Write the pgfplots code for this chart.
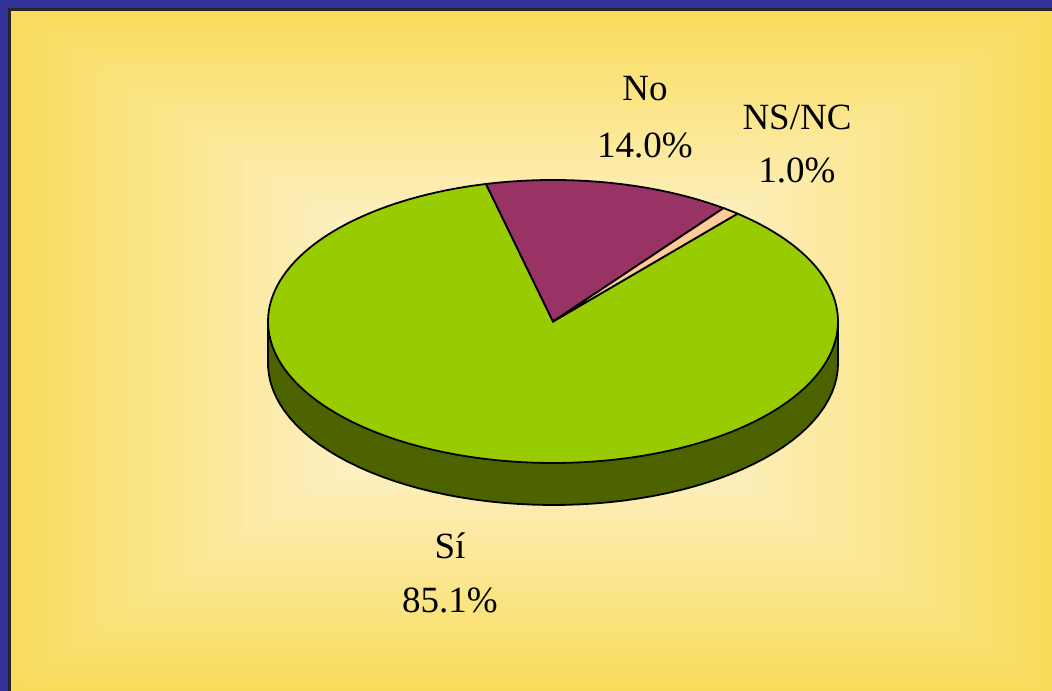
\documentclass[border=0pt]{standalone}
\usepackage{pgfplots}
\pgfplotsset{compat=1.18}
\usepackage{fontspec}
\setmainfont{Liberation Serif}
\definecolor{bgblue}{RGB}{51,51,153}
\definecolor{outery}{RGB}{249,220,92}
\definecolor{innery}{RGB}{253,242,204}
\definecolor{sicol}{RGB}{153,204,0}
\definecolor{sidecol}{RGB}{77,99,0}
\definecolor{nocol}{RGB}{153,51,102}
\definecolor{nscol}{RGB}{255,204,153}
% data (percent)
\def\valSi{85.1}
\def\valNo{14.0}
\def\valNS{1.0}
\pgfmathsetmacro\tot{\valSi+\valNo+\valNS}
\pgfmathsetmacro\aStart{103.6}
\pgfmathsetmacro\aNoEnd{\aStart-360/\tot*\valNo}
\pgfmathsetmacro\aNSEnd{\aNoEnd-360/\tot*\valNS}
\pgfmathsetmacro\aSiEnd{\aNSEnd-360/\tot*\valSi}
\def\cx{553}\def\cy{368.5}\def\rx{285}\def\ry{141.5}\def\dep{42}
\begin{document}
\begin{tikzpicture}
\begin{scope}[x=0.5pt,y=0.5pt]
\useasboundingbox (0,0) rectangle (1052,690);
\fill[outery] (0,-12) rectangle (1064,690);
\foreach \i in {0,...,30}{
  \pgfmathsetmacro\g{\i/40}
  \pgfmathsetmacro\f{1-\g}
  \pgfmathtruncatemacro\t{100*max(0,min(1,(\f-0.3)/0.7))}
  \pgfmathsetmacro\xl{9+(530-9)*\g}
  \pgfmathsetmacro\xr{1052-(1052-530)*\g}
  \pgfmathsetmacro\yb{0+(345-0)*\g}
  \pgfmathsetmacro\yt{681-(681-345)*\g}
  \fill[outery!\t!innery] (\xl,\yb) rectangle (\xr,\yt);
}
\fill[bgblue] (-12,-12) rectangle (9,702);
\fill[bgblue] (-12,681) rectangle (1064,702);
\draw[black!85, line width=1.2pt] (9.5,-12) -- (9.5,680.5) -- (1064,680.5);
\end{scope}
\begin{axis}[at={(0,0)}, anchor=south west, width=526pt, height=345pt,
  scale only axis, hide axis, clip=false,
  xmin=0, xmax=1052, ymin=0, ymax=690]
% side of the pie
\addplot[fill=sidecol, draw=black, line width=0.9pt, domain=0:360, samples=120]
  ({\cx+\rx*cos(x)}, {\cy-\dep+\ry*sin(x)}) -- cycle;
\addplot[fill=sidecol, draw=none] coordinates {(\cx-\rx,\cy-\dep) (\cx+\rx,\cy-\dep) (\cx+\rx,\cy) (\cx-\rx,\cy)} -- cycle;
\addplot[black, line width=0.9pt] coordinates {(\cx-\rx,\cy-\dep) (\cx-\rx,\cy)};
\addplot[black, line width=0.9pt] coordinates {(\cx+\rx,\cy-\dep) (\cx+\rx,\cy)};
% top face slices
\addplot[fill=sicol, draw=black, line width=0.9pt, domain=\aSiEnd:\aNSEnd, samples=150]
  ({\cx+\rx*cos(x)}, {\cy+\ry*sin(x)}) -- (\cx,\cy) -- cycle;
\addplot[fill=nocol, draw=black, line width=0.9pt, domain=\aNoEnd:\aStart, samples=40]
  ({\cx+\rx*cos(x)}, {\cy+\ry*sin(x)}) -- (\cx,\cy) -- cycle;
\addplot[fill=nscol, draw=black, line width=0.9pt, domain=\aNSEnd:\aNoEnd, samples=10]
  ({\cx+\rx*cos(x)}, {\cy+\ry*sin(x)}) -- (\cx,\cy) -- cycle;
% labels
\node[anchor=base, font=\fontsize{18.5}{20}\selectfont] at (645,589) {No};
\node[anchor=base, font=\fontsize{18.5}{20}\selectfont] at (645,532) {14.0\%};
\node[anchor=base, font=\fontsize{18.5}{20}\selectfont] at (797,560) {NS/NC};
\node[anchor=base, font=\fontsize{18.5}{20}\selectfont] at (797,507) {1.0\%};
\node[anchor=base, font=\fontsize{18.5}{20}\selectfont] at (450,132) {Sí};
\node[anchor=base, font=\fontsize{18.5}{20}\selectfont] at (450,78) {85.1\%};
\end{axis}
\end{tikzpicture}
\end{document}
